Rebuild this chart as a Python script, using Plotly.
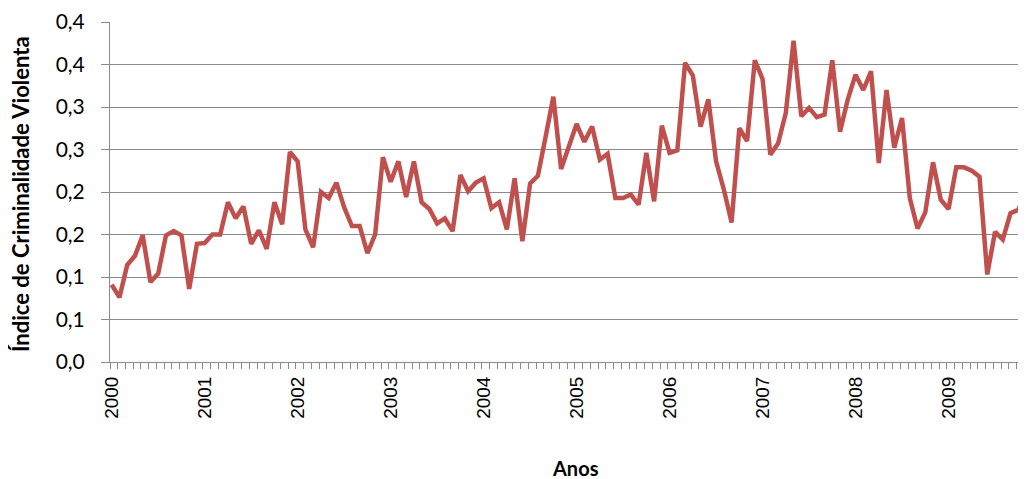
import plotly.graph_objects as go

years = [str(y) for y in range(2000, 2010)]
months_per_year = 12

# Monthly index values, Jan 2000 .. Dec 2009
values = [
    0.091, 0.076, 0.114, 0.125, 0.149, 0.094, 0.104, 0.149, 0.154, 0.149, 0.086, 0.139,
    0.140, 0.150, 0.150, 0.188, 0.169, 0.183, 0.139, 0.155, 0.133, 0.188, 0.162, 0.247,
    0.236, 0.156, 0.135, 0.200, 0.193, 0.211, 0.182, 0.160, 0.160, 0.128, 0.150, 0.241,
    0.212, 0.236, 0.194, 0.236, 0.188, 0.180, 0.163, 0.169, 0.154, 0.220, 0.201, 0.211,
    0.216, 0.181, 0.188, 0.156, 0.216, 0.142, 0.210, 0.219, 0.265, 0.312, 0.227, 0.253,
    0.280, 0.259, 0.277, 0.238, 0.245, 0.193, 0.193, 0.197, 0.185, 0.246, 0.189, 0.278,
    0.246, 0.249, 0.352, 0.337, 0.277, 0.309, 0.236, 0.203, 0.164, 0.275, 0.260, 0.355,
    0.333, 0.244, 0.257, 0.293, 0.378, 0.289, 0.299, 0.288, 0.291, 0.355, 0.271, 0.309,
    0.338, 0.320, 0.342, 0.234, 0.320, 0.252, 0.287, 0.193, 0.157, 0.176, 0.235, 0.191,
    0.180, 0.229, 0.229, 0.225, 0.218, 0.103, 0.153, 0.144, 0.175, 0.179, 0.200, 0.210,
]

y_tickvals = [0.0, 0.05, 0.10, 0.15, 0.20, 0.25, 0.30, 0.35, 0.40]
y_ticktext = ["0,0", "0,1", "0,1", "0,2", "0,2", "0,3", "0,3", "0,4", "0,4"]

x = list(range(len(values)))
x_tickvals = [i * months_per_year for i in range(len(years))]

W, H = 1018, 471
ML, MT = 102, 14
MB = H - 354
PW, PH = W - ML, H - MT - MB

fig = go.Figure()
fig.add_trace(go.Scatter(
    x=x, y=values, mode="lines",
    line=dict(color="#C0504D", width=4.5),
    hoverinfo="skip", showlegend=False,
))

grid = "#8A8A8A"
fig.update_layout(
    width=W, height=H,
    margin=dict(l=ML, r=0, t=MT, b=MB),
    paper_bgcolor="white", plot_bgcolor="white",
    xaxis=dict(
        range=[-0.22, 118.0],
        tickmode="array", tickvals=x_tickvals, ticktext=years,
        tickangle=-90,
        tickfont=dict(family="Liberation Sans, Arial", size=19, color="black"),
        ticks="", showgrid=False, zeroline=False,
        showline=True, linecolor=grid, linewidth=1,
        ticklabelstandoff=6,
        minor=dict(tickmode="linear", tick0=-0.22, dtick=1, ticks="outside",
                   ticklen=6, tickcolor=grid, tickwidth=1, showgrid=False),
    ),
    yaxis=dict(
        range=[0, 0.4],
        tickmode="array", tickvals=y_tickvals, ticktext=y_ticktext,
        tickfont=dict(family="Lato", size=21, color="black"),
        ticks="outside", ticklen=8, tickcolor=grid,
        showgrid=True, gridcolor=grid, gridwidth=1,
        zeroline=False, showline=True, linecolor=grid, linewidth=1,
        ticklabelstandoff=12,
    ),
    annotations=[
        dict(text="<b>Índice de Criminalidade Violenta</b>", xref="paper", yref="paper",
             x=(12 - ML) / PW, y=(354 - 186) / PH, xanchor="center", yanchor="middle",
             textangle=-90, showarrow=False,
             font=dict(family="Lato", size=22, color="black")),
        dict(text="<b>Anos</b>", xref="paper", yref="paper",
             x=(567 - ML) / PW, y=-(460 - 354) / PH, xanchor="center", yanchor="middle",
             showarrow=False, font=dict(family="Lato", size=20, color="black")),
    ],
)

fig.write_html("out.html")
